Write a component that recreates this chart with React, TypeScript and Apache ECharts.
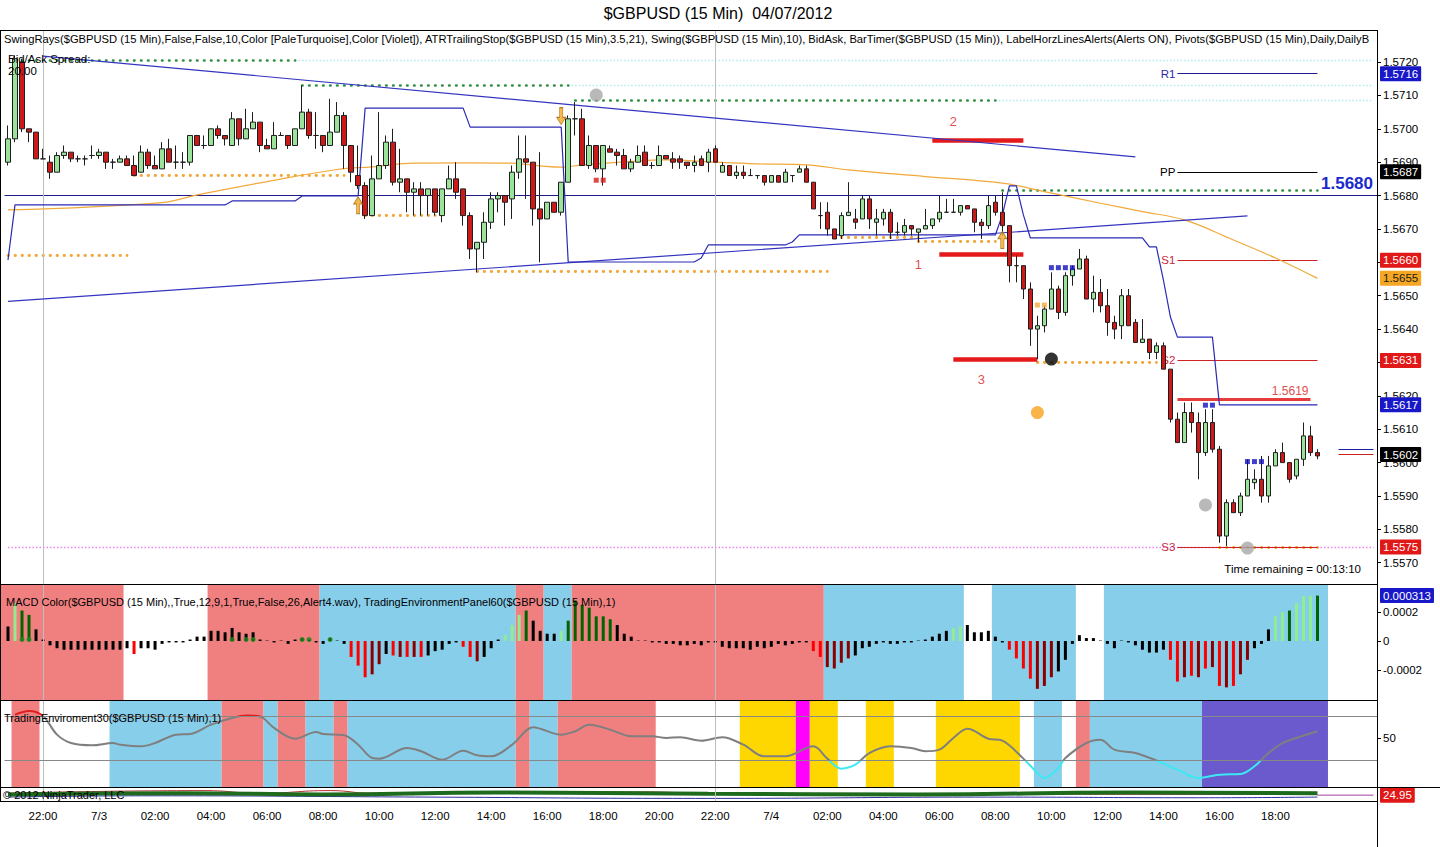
import React, { useEffect, useRef } from "react";
import * as echarts from "echarts";

const FONT = "'Liberation Sans', Arial, Helvetica, sans-serif";

// ---------------- categories / ticks ----------------
const N_CAT = 196; // 188 bars + empty right margin
const CATEGORIES = Array.from({ length: N_CAT }, (_, i) => String(i));
const TIME_TICKS = ["22:00", "7/3", "02:00", "04:00", "06:00", "08:00", "10:00", "12:00", "14:00", "16:00", "18:00", "20:00", "22:00", "7/4", "02:00", "04:00", "06:00", "08:00", "10:00", "12:00", "14:00", "16:00", "18:00"];
const TICK_FIRST_BAR = 5;
const TICK_EVERY = 8;
const SESSION_BARS = [5, 101];
const PRICE_TICKS = [1.557, 1.558, 1.559, 1.56, 1.561, 1.562, 1.563, 1.564, 1.565, 1.566, 1.567, 1.568, 1.569, 1.57, 1.571, 1.572];
const MACD_TICKS = [-0.0002, 0, 0.0002];
const ENV_TICKS = [50];

// ---------------- price bars: open, high, low, close ----------------
const OHLC = [
  [1.5690, 1.5701, 1.5689, 1.5697], [1.5697, 1.5722, 1.5696, 1.5721], [1.5720, 1.5721, 1.5699, 1.5700], [1.5700, 1.5700, 1.5696, 1.5699],
  [1.5699, 1.5699, 1.5691, 1.5691], [1.5691, 1.5694, 1.5691, 1.5691], [1.5690, 1.5692, 1.5685, 1.5687], [1.5687, 1.5693, 1.5687, 1.5692],
  [1.5692, 1.5695, 1.5691, 1.5693], [1.5693, 1.5693, 1.5690, 1.5691], [1.5691, 1.5692, 1.5690, 1.5691], [1.5691, 1.5692, 1.5689, 1.5691],
  [1.5692, 1.5695, 1.5691, 1.5692], [1.5692, 1.5694, 1.5691, 1.5693], [1.5693, 1.5693, 1.5688, 1.5690], [1.5690, 1.5691, 1.5688, 1.5690],
  [1.5690, 1.5692, 1.5690, 1.5691], [1.5691, 1.5692, 1.5689, 1.5689], [1.5689, 1.5692, 1.5686, 1.5686], [1.5687, 1.5695, 1.5687, 1.5693],
  [1.5693, 1.5694, 1.5688, 1.5689], [1.5689, 1.5692, 1.5688, 1.5688], [1.5688, 1.5696, 1.5688, 1.5694], [1.5694, 1.5697, 1.5690, 1.5690],
  [1.5690, 1.5695, 1.5688, 1.5690], [1.5690, 1.5693, 1.5688, 1.5690], [1.5690, 1.5698, 1.5689, 1.5698], [1.5698, 1.5698, 1.5695, 1.5695],
  [1.5695, 1.5698, 1.5694, 1.5695], [1.5695, 1.5700, 1.5695, 1.5700], [1.5700, 1.5701, 1.5697, 1.5698], [1.5698, 1.5698, 1.5695, 1.5697],
  [1.5695, 1.5705, 1.5695, 1.5703], [1.5703, 1.5703, 1.5695, 1.5697], [1.5697, 1.5706, 1.5697, 1.5700], [1.5700, 1.5705, 1.5700, 1.5702],
  [1.5702, 1.5702, 1.5693, 1.5695], [1.5695, 1.5697, 1.5694, 1.5694], [1.5694, 1.5702, 1.5694, 1.5698], [1.5698, 1.5699, 1.5698, 1.5698],
  [1.5698, 1.5698, 1.5694, 1.5695], [1.5695, 1.5700, 1.5695, 1.5700], [1.5700, 1.5713, 1.5700, 1.5705], [1.5705, 1.5706, 1.5697, 1.5698],
  [1.5698, 1.5705, 1.5694, 1.5698], [1.5698, 1.5698, 1.5693, 1.5695], [1.5695, 1.5709, 1.5695, 1.5699], [1.5699, 1.5708, 1.5699, 1.5704],
  [1.5704, 1.5705, 1.5688, 1.5695], [1.5695, 1.5695, 1.5684, 1.5687], [1.5686, 1.5695, 1.5682, 1.5683], [1.5683, 1.5684, 1.5673, 1.5674],
  [1.5674, 1.5692, 1.5674, 1.5685], [1.5685, 1.5705, 1.5685, 1.5689], [1.5689, 1.5698, 1.5688, 1.5696], [1.5696, 1.5700, 1.5683, 1.5684],
  [1.5684, 1.5694, 1.5681, 1.5685], [1.5685, 1.5685, 1.5675, 1.5681], [1.5681, 1.5684, 1.5674, 1.5682], [1.5682, 1.5684, 1.5674, 1.5680],
  [1.5680, 1.5682, 1.5674, 1.5682], [1.5682, 1.5682, 1.5674, 1.5675], [1.5674, 1.5682, 1.5672, 1.5682], [1.5682, 1.5689, 1.5682, 1.5685],
  [1.5685, 1.5690, 1.5679, 1.5681], [1.5682, 1.5682, 1.5671, 1.5674], [1.5674, 1.5675, 1.5661, 1.5664], [1.5664, 1.5666, 1.5657, 1.5666],
  [1.5666, 1.5675, 1.5661, 1.5672], [1.5672, 1.5681, 1.5670, 1.5679], [1.5679, 1.5681, 1.5675, 1.5680], [1.5680, 1.5680, 1.5671, 1.5678],
  [1.5679, 1.5689, 1.5673, 1.5687], [1.5687, 1.5698, 1.5685, 1.5691], [1.5691, 1.5698, 1.5679, 1.5690], [1.5690, 1.5690, 1.5671, 1.5676],
  [1.5676, 1.5693, 1.5660, 1.5673], [1.5673, 1.5678, 1.5673, 1.5678], [1.5678, 1.5678, 1.5675, 1.5675], [1.5675, 1.5684, 1.5674, 1.5684],
  [1.5684, 1.5704, 1.5684, 1.5703], [1.5703, 1.5708, 1.5698, 1.5703], [1.5703, 1.5706, 1.5689, 1.5689], [1.5689, 1.5698, 1.5688, 1.5695],
  [1.5695, 1.5695, 1.5687, 1.5688], [1.5688, 1.5695, 1.5683, 1.5695], [1.5694, 1.5695, 1.5693, 1.5693], [1.5693, 1.5694, 1.5689, 1.5692],
  [1.5692, 1.5694, 1.5688, 1.5688], [1.5688, 1.5691, 1.5687, 1.5690], [1.5690, 1.5695, 1.5690, 1.5692], [1.5693, 1.5695, 1.5689, 1.5689],
  [1.5689, 1.5690, 1.5688, 1.5689], [1.5689, 1.5695, 1.5689, 1.5692], [1.5692, 1.5692, 1.5691, 1.5691], [1.5691, 1.5693, 1.5688, 1.5690],
  [1.5691, 1.5692, 1.5688, 1.5690], [1.5690, 1.5690, 1.5688, 1.5689], [1.5689, 1.5692, 1.5687, 1.5690], [1.5691, 1.5692, 1.5689, 1.5689],
  [1.5690, 1.5694, 1.5687, 1.5693], [1.5694, 1.5695, 1.5690, 1.5690], [1.5687, 1.5690, 1.5687, 1.5689], [1.5689, 1.5689, 1.5686, 1.5686],
  [1.5686, 1.5689, 1.5685, 1.5687], [1.5687, 1.5689, 1.5685, 1.5686], [1.5686, 1.5688, 1.5686, 1.5686], [1.5686, 1.5686, 1.5685, 1.5686],
  [1.5686, 1.5686, 1.5683, 1.5684], [1.5684, 1.5686, 1.5684, 1.5686], [1.5686, 1.5686, 1.5684, 1.5684], [1.5684, 1.5688, 1.5684, 1.5687],
  [1.5686, 1.5686, 1.5684, 1.5686], [1.5687, 1.5689, 1.5687, 1.5688], [1.5688, 1.5689, 1.5684, 1.5684], [1.5684, 1.5684, 1.5676, 1.5676],
  [1.5674, 1.5678, 1.5670, 1.5674], [1.5675, 1.5678, 1.5668, 1.5670], [1.5670, 1.5670, 1.5667, 1.5667], [1.5668, 1.5675, 1.5667, 1.5674],
  [1.5674, 1.5684, 1.5674, 1.5675], [1.5673, 1.5676, 1.5670, 1.5672], [1.5673, 1.5680, 1.5673, 1.5679], [1.5679, 1.5680, 1.5670, 1.5673],
  [1.5672, 1.5676, 1.5668, 1.5673], [1.5673, 1.5676, 1.5671, 1.5675], [1.5675, 1.5676, 1.5667, 1.5669], [1.5669, 1.5672, 1.5668, 1.5669],
  [1.5669, 1.5673, 1.5668, 1.5671], [1.5671, 1.5671, 1.5668, 1.5670], [1.5669, 1.5670, 1.5666, 1.5670], [1.5670, 1.5676, 1.5670, 1.5671],
  [1.5671, 1.5673, 1.5670, 1.5673], [1.5673, 1.5680, 1.5672, 1.5675], [1.5675, 1.5679, 1.5675, 1.5675], [1.5675, 1.5679, 1.5675, 1.5675],
  [1.5675, 1.5677, 1.5674, 1.5677], [1.5677, 1.5677, 1.5676, 1.5676], [1.5676, 1.5676, 1.5669, 1.5672], [1.5672, 1.5673, 1.5667, 1.5671],
  [1.5671, 1.5680, 1.5670, 1.5677], [1.5678, 1.5680, 1.5674, 1.5675], [1.5675, 1.5681, 1.5668, 1.5671], [1.5671, 1.5671, 1.5654, 1.5659],
  [1.5659, 1.5662, 1.5654, 1.5659], [1.5659, 1.5659, 1.5649, 1.5652], [1.5652, 1.5654, 1.5635, 1.5640], [1.5640, 1.5644, 1.5631, 1.5641],
  [1.5641, 1.5647, 1.5639, 1.5646], [1.5646, 1.5657, 1.5646, 1.5652], [1.5652, 1.5653, 1.5643, 1.5645], [1.5645, 1.5657, 1.5644, 1.5656],
  [1.5656, 1.5659, 1.5653, 1.5658], [1.5658, 1.5664, 1.5658, 1.5661], [1.5661, 1.5662, 1.5649, 1.5649], [1.5649, 1.5656, 1.5645, 1.5651],
  [1.5651, 1.5655, 1.5645, 1.5647], [1.5647, 1.5652, 1.5638, 1.5642], [1.5642, 1.5644, 1.5637, 1.5640], [1.5641, 1.5652, 1.5637, 1.5650],
  [1.5650, 1.5652, 1.5641, 1.5641], [1.5642, 1.5643, 1.5636, 1.5636], [1.5636, 1.5643, 1.5636, 1.5637], [1.5637, 1.5637, 1.5631, 1.5633],
  [1.5633, 1.5636, 1.5631, 1.5635], [1.5635, 1.5636, 1.5628, 1.5628], [1.5628, 1.5628, 1.5612, 1.5613], [1.5613, 1.5615, 1.5606, 1.5606],
  [1.5606, 1.5618, 1.5606, 1.5615], [1.5615, 1.5618, 1.5609, 1.5612], [1.5612, 1.5615, 1.5595, 1.5603], [1.5603, 1.5616, 1.5602, 1.5612],
  [1.5612, 1.5616, 1.5603, 1.5604], [1.5604, 1.5605, 1.5576, 1.5578], [1.5578, 1.5589, 1.5575, 1.5588], [1.5588, 1.5589, 1.5585, 1.5585],
  [1.5585, 1.5591, 1.5584, 1.5590], [1.5590, 1.5601, 1.5590, 1.5595], [1.5594, 1.5598, 1.5592, 1.5595], [1.5595, 1.5602, 1.5588, 1.5590],
  [1.5590, 1.5602, 1.5588, 1.5599], [1.5599, 1.5604, 1.5599, 1.5603], [1.5603, 1.5606, 1.5600, 1.5600], [1.5600, 1.5600, 1.5594, 1.5595],
  [1.5596, 1.5601, 1.5595, 1.5601], [1.5601, 1.5612, 1.5599, 1.5608], [1.5608, 1.5611, 1.5602, 1.5603], [1.5603, 1.5604, 1.5601, 1.5602],
];

// ATR trailing stop: [fromBar, toBar, level]
const ATR_RUNS = [
  [0, 0, 1.56607], [1, 31, 1.56772], [32, 41, 1.56784], [42, 50, 1.56799], [51, 65, 1.57062], [66, 79, 1.57005],
  [80, 98, 1.56601], [99, 99, 1.56613], [100, 111, 1.56652], [112, 112, 1.56661], [113, 141, 1.56682], [142, 142, 1.56742],
  [143, 144, 1.56829], [145, 145, 1.56742], [146, 162, 1.56673], [163, 164, 1.56646], [165, 165, 1.56547], [166, 166, 1.56436],
  [167, 172, 1.56376], [173, 187, 1.56173],
];

// slow moving average (orange)
const MA_POINTS = [
  [0, 1.56757], [22, 1.56779], [27, 1.56802], [37, 1.56842], [47, 1.56878], [52, 1.56886], [58, 1.56897], [65, 1.56898],
  [72, 1.56897], [76, 1.56889], [79, 1.56885], [82, 1.56892], [88, 1.56901], [94, 1.56907], [100, 1.56901], [107, 1.56895],
  [114, 1.56892], [120, 1.56877], [131, 1.56857], [142, 1.56837], [148, 1.56812], [156, 1.56777], [162, 1.56752],
  [168, 1.56727], [175, 1.56667], [181, 1.56613], [187, 1.56552],
];

// trend lines [bar, price] pairs
const TREND_UPPER = [[5, 1.57218], [161, 1.56916]];
const TREND_LOWER = [[0, 1.56483], [177, 1.56739]];

// swing rays: [fromBar, toBar, level]
const SWING_HIGH_RAYS = [[1, 41, 1.57206], [42, 80, 1.57131], [81, 141, 1.57086], [142, 187, 1.56815]];
const BROKEN_HIGH_RAYS = [[41, 195, 1.57206], [80, 195, 1.57131], [141, 195, 1.57086]];
const SWING_LOW_RAYS = [[0, 17, 1.5662], [18, 48, 1.56861], [51, 61, 1.56741], [67, 117, 1.56573], [118, 130, 1.56674], [130, 141, 1.56662], [147, 164, 1.56302], [173, 187, 1.55747]];
const VIOLET_RAY = [0, 195, 1.55747];

// pivots: [name, level]
const PIVOTS = [["R1", 1.57165], ["PP", 1.56871], ["S1", 1.56606], ["S2", 1.56306], ["S3", 1.55747]];
const PIVOT_FROM = 167;
const PIVOT_TO = 187;

// alert lines: [fromBar, toBar, level]
const ALERT_LINES = [[132, 145, 1.56966], [133, 145, 1.56625], [135, 147, 1.56311]];
const ALERT_NUMBERS = [[130, 1.56592, "1"], [135, 1.57023, "2"], [139, 1.5625, "3"]];
const HORZ_LEVEL = 1.568;
const LEVEL_1619 = [167, 186, 1.5619];
const BID_ASK = [[190, 195, 1.56041], [190, 195, 1.56024]];

// markers
const GRAY_DOTS = [[84, 1.57101], [171, 1.55873], [177, 1.55744]];
const BLACK_DOTS = [[149, 1.5631]];
const ORANGE_DOTS = [[147, 1.5615]];
const RED_SQUARES = [[84, 1.56846], [85, 1.56846]];
const BLUE_SQUARES = [[149, 1.56584], [150, 1.56584], [151, 1.56584], [152, 1.56584], [171, 1.56172], [172, 1.56172], [177, 1.56003], [178, 1.56003], [179, 1.56003]];
const ORANGE_SQUARES = [[147, 1.56472], [148, 1.56472]];
const UP_ARROWS = [[50, 1.56771], [142, 1.56667]];
const DOWN_ARROWS = [[79, 1.57038]];

// price tags on the right axis: [level, text, kind]
const MAIN_TAGS = [
  [1.57165, "1.5716", "blue"], [1.56871, "1.5687", "black"], [1.56606, "1.5660", "red"], [1.56552, "1.5655", "orange"],
  [1.56306, "1.5631", "red"], [1.56173, "1.5617", "blue"], [1.56024, "1.5602", "black"], [1.55747, "1.5575", "red"],
];

// ---------------- MACD panel ----------------
const MACD_HIST = [
  0.00010, 0.00026, 0.00021, 0.00018, 0.00008, 0.00001, -0.00003, -0.00005, -0.00006, -0.00006, -0.00006, -0.00006, -0.00006, -0.00006, -0.00006, -0.00006,
  -0.00006, -0.00005, -0.00009, -0.00005, -0.00005, -0.00006, -0.00002, -0.00001, -0.00001, -0.00001, 0.00001, 0.00003, 0.00003, 0.00007, 0.00007, 0.00006,
  0.00009, 0.00006, 0.00005, 0.00006, 0.00001, 0.000003, -0.00001, 0.000003, -0.00002, 0.00001, 0.00002, 0.00001, -0.00001, -0.00002, 0.00002, 0.000003,
  -0.00002, -0.00011, -0.00017, -0.00025, -0.00023, -0.00016, -0.00009, -0.00010, -0.00011, -0.00011, -0.00011, -0.00011, -0.00010, -0.00007, -0.00006, -0.00002,
  -0.00001, -0.00004, -0.00011, -0.00014, -0.00011, -0.00005, 0.00001, 0.00004, 0.00011, 0.00018, 0.00021, 0.00014, 0.00007, 0.00005, 0.00005, 0.00007,
  0.00014, 0.00028, 0.00025, 0.00023, 0.00017, 0.00017, 0.00015, 0.00011, 0.00005, 0.00003, 0.000003, 0.000003, -0.00001, -0.00001, -0.00002, -0.00002,
  -0.00003, -0.00003, -0.00002, -0.00003, -0.00001, -0.00001, -0.00004, -0.00005, -0.00005, -0.00005, -0.00006, -0.00004, -0.00005, -0.00004, -0.00002, -0.00003,
  -0.00002, -0.00001, -0.00001, -0.00007, -0.00011, -0.00018, -0.00019, -0.00015, -0.00012, -0.00010, -0.00005, -0.00004, -0.00002, -0.00001, -0.00002, -0.00002,
  -0.00001, -0.00001, 0.000003, 0.00001, 0.00003, 0.00005, 0.00007, 0.00009, 0.00010, 0.00011, 0.00006, 0.00006, 0.00007, 0.00003, -0.00001, -0.00006,
  -0.00012, -0.00019, -0.00026, -0.00033, -0.00031, -0.00025, -0.00021, -0.00013, -0.00002, 0.00004, 0.00002, 0.00002, 0.000003, -0.00002, -0.00005, 0.000003,
  -0.00001, -0.00003, -0.00006, -0.00008, -0.00008, -0.00006, -0.00013, -0.00028, -0.00025, -0.00024, -0.00025, -0.00019, -0.00018, -0.00031, -0.00032, -0.00031,
  -0.00023, -0.00013, -0.00005, -0.00002, 0.00008, 0.00017, 0.00020, 0.00021, 0.00026, 0.00031, 0.00031, 0.000313,
];
// colour code per bar: k black, L light green, G dark green, R red, D dark red
const MACD_CODES =
  "kLGGkk" + "kkkkkkkkkkkk" + "Rkkkkkkk" + "kkkkkkkkkkkkkkkkkkkkkkk" + "RRRDDkRDRDRkkkkk" + "RRDkkk" + "LLLGkkkk" + "LGGGGGGGkk" +
  "kkkkkkkkkkkk" + "kkkkkkkkkkkkkk" + "RRDDDD" + "kkkkkkkkkkkkkk" + "LLkkkkkk" + "RRRRDDDkk" + "kkkkkkkkkkkkkk" +
  "RRDRDRDRDRDD" + "kkk" + "LLGLLLG";
const MACD_DOT_BARS = [2, 3, 32, 34, 35, 42, 43, 46];
const MACD_TAG = 0.000313;

// background bands [fromBar, toBar, colourKey]
const MACD_BANDS = [[0, 16, "S"], [29, 44, "S"], [45, 72, "B"], [73, 76, "S"], [77, 80, "B"], [81, 116, "S"], [117, 136, "B"], [141, 152, "B"], [157, 188, "B"]];
const ENV_BANDS = [
  [1, 4, "S"], [15, 30, "B"], [31, 36, "S"], [37, 38, "B"], [39, 42, "S"], [43, 46, "B"], [47, 48, "S"], [49, 72, "B"], [73, 74, "S"],
  [75, 78, "B"], [79, 92, "S"], [105, 112, "Y"], [113, 114, "M"], [115, 118, "Y"], [123, 126, "Y"], [133, 144, "Y"], [147, 150, "B"],
  [153, 154, "S"], [155, 170, "B"], [171, 188, "P"],
];

// ---------------- Trading environment line ----------------
const ENV_POINTS = [
  [1, 71.5], [3, 74.8], [5, 70.3], [7, 53.3], [9, 45.7], [12, 43.6], [15, 45.7], [16, 44.2], [19, 42.7], [21, 45.7], [24, 53.3], [26, 53.9],
  [29, 62.4], [32, 68.5], [34, 70.8], [36, 69.8], [38, 59.4], [41, 49.6], [44, 55.7], [45, 53.9], [48, 52.7], [50, 44.2], [52, 32.1], [53, 31.5],
  [57, 41.2], [59, 38.2], [62, 30.5], [65, 38.7], [67, 34.5], [69, 33.6], [72, 44.2], [75, 60], [76, 58.7], [79, 53.3], [81, 56.4], [83, 62.4],
  [86, 57.8], [89, 51.8], [92, 51.8], [94, 50.3], [96, 50.9], [99, 47.8], [102, 50.9], [105, 44.2], [108, 33.6], [111, 33.6], [115, 42.7],
  [117, 31.5], [119, 22.4], [121, 26], [123, 36.6], [126, 42.7], [129, 41.2], [131, 38.2], [133, 39.7], [135, 50.3], [137, 58.7], [140, 49.6],
  [142, 47.8], [145, 31.5], [147, 18.5], [148, 13.9], [150, 23], [151, 32.1], [154, 45.7], [156, 48.7], [158, 39.7], [161, 36.6], [164, 29.8],
  [167, 21.5], [170, 13.9], [173, 16.9], [176, 17.5], [178, 24.5], [180, 36.6], [182, 45.7], [184, 50.3], [187, 56.4],
];
const ENV_GUIDES = [30, 70];

// ---------------- bottom mini panel ----------------
const MINI_GREEN = [[0, 5], [25, 6], [45, 5], [70, 6.5], [100, 5.5], [130, 5], [160, 6.5], [187, 6]];
const MINI_BLUE = [[0, 3], [20, 4], [60, 3], [100, 2], [140, 3], [170, 2.5], [187, 3]];
const MINI_RED = [[0, 6], [28, 8], [36, 6], [46, 8], [52, 6], [90, 7], [100, 6], [187, 5]];
const MINI_TAIL = [[187, 4.5], [195, 4.5]];
const MINI_TAG = "24.95";

// ---------------- styles ----------------
const TAG_COLORS = { blue: ["#1818c8", "#fff"], black: ["#000", "#fff"], red: ["#e01818", "#fff"], orange: ["#f5a623", "#1a1a1a"] };
const BAND_COLORS = { S: "#F08080", B: "#87CEEB", Y: "#FFD700", M: "#FF00FF", P: "#6A5ACD" };
const MACD_COLORS = { k: "#000000", L: "#90EE90", G: "#006400", R: "#FF0000", D: "#8B0000" };
const HIDDEN_LINE = { color: "rgba(0,0,0,0)", width: 0 };

function tagLabel(text, bg, fg, size = 11.5) {
  return {
    show: true, position: "end", distance: 3, formatter: text, color: fg, backgroundColor: bg,
    padding: [2, 3, 1, 3], fontSize: size, fontFamily: FONT, borderRadius: 1,
  };
}

function seg(a, b, p, lineStyle, label) {
  return [{ coord: [a, p], lineStyle, label: label || { show: false } }, { coord: [b, p] }];
}

function bandRender(yVal) {
  return (params, api) => {
    const cs = params.coordSys;
    const a = api.value(0);
    const b = api.value(1);
    const w = api.size([1, 0])[0];
    const xa = a <= 0 ? 0 : api.coord([a, yVal])[0] - w / 2;
    const xb = api.coord([b, yVal])[0] + w / 2;
    return {
      type: "rect",
      shape: { x: xa, y: cs.y, width: xb - xa, height: cs.height },
      style: { fill: api.visual("color") },
    };
  };
}

function buildOption() {
  const candleData = OHLC.map(([o, h, l, c]) => [o, c, l, h]);
  const atrData = [];
  ATR_RUNS.forEach(([a, b, v]) => {
    for (let i = a; i <= b; i++) atrData.push([i, v]);
  });

  const greenDots = { color: "#2f8f3f", width: 2.6, type: [0.5, 6.5], cap: "round" };
  const orangeDots = { color: "#f2a93b", width: 2.8, type: [0.5, 6.5], cap: "round" };
  const cyanDots = { color: "#aeeaea", width: 1.4, type: [1.5, 2] };
  const violetDots = { color: "#ee82ee", width: 1.4, type: [1.5, 2] };

  const lines = [];
  BROKEN_HIGH_RAYS.forEach(([a, b, p]) => lines.push(seg(a, b, p, cyanDots)));
  lines.push(seg(VIOLET_RAY[0], VIOLET_RAY[1], VIOLET_RAY[2], violetDots));
  SWING_HIGH_RAYS.forEach(([a, b, p]) => lines.push(seg(a, b, p, greenDots)));
  SWING_LOW_RAYS.forEach(([a, b, p]) => lines.push(seg(a, b, p, orangeDots)));
  PIVOTS.forEach(([name, p]) => {
    const col = name === "R1" ? "#1c1c8c" : name === "PP" ? "#000000" : "#cc2222";
    const lcol = name === "R1" ? "#2a2aa8" : name === "PP" ? "#000000" : "#c8283c";
    lines.push(seg(PIVOT_FROM, PIVOT_TO, p, { color: col, width: 1, type: "solid" },
      { show: true, position: "start", distance: 2, formatter: name, color: lcol, fontSize: 11.5, fontFamily: FONT }));
  });
  ALERT_LINES.forEach(([a, b, p]) => lines.push(seg(a, b, p, { color: "#e41a1a", width: 4.5, type: "solid" })));
  lines.push(seg(LEVEL_1619[0], LEVEL_1619[1], LEVEL_1619[2], { color: "#e63c3c", width: 3, type: "solid" },
    { show: true, position: "insideEndTop", distance: 2, formatter: "1.5619", color: "#e05050", fontSize: 12, fontFamily: FONT }));
  lines.push(seg(BID_ASK[0][0], BID_ASK[0][1], BID_ASK[0][2], { color: "#2020a0", width: 1, type: "solid" }));
  lines.push(seg(BID_ASK[1][0], BID_ASK[1][1], BID_ASK[1][2], { color: "#cc2020", width: 1, type: "solid" }));
  lines.push({
    yAxis: HORZ_LEVEL,
    lineStyle: { color: "#1c1c8c", width: 1.2, type: "solid" },
    label: { show: true, position: "insideEndTop", distance: 4, formatter: "1.5680", color: "#1a2acd", fontSize: 17, fontWeight: "bold", fontFamily: FONT },
  });
  SESSION_BARS.forEach((b) => lines.push({ xAxis: b, lineStyle: { color: "#bdbdbd", width: 1, type: "solid" }, label: { show: false } }));

  const mainTags = MAIN_TAGS.map(([p, text, kind]) => ({
    yAxis: p, lineStyle: HIDDEN_LINE, label: tagLabel(text, TAG_COLORS[kind][0], TAG_COLORS[kind][1]),
  }));

  const sessionLines = SESSION_BARS.map((b) => ({ xAxis: b, lineStyle: { color: "#bdbdbd", width: 1, type: "solid" }, label: { show: false } }));

  const arrowPath = "path://M5 0 L10 6 L6.8 6 L6.8 14 L3.2 14 L3.2 6 L0 6 Z";
  const mk = (data, z) => ({ symbol: "none", silent: true, animation: false, precision: 8, data, ...(z != null ? { z } : {}) });

  const series = [];
  // ---- main grid ----
  series.push({
    type: "candlestick", name: "GBPUSD", xAxisIndex: 0, yAxisIndex: 0, data: candleData, barWidth: 5, z: 5,
    itemStyle: { color: "#9be39b", color0: "#cc1a1a", borderColor: "#1e1e1e", borderColor0: "#1e1e1e", borderWidth: 1 },
    markLine: mk(mainTags),
  });
  series.push({
    type: "line", name: "ATR", xAxisIndex: 0, yAxisIndex: 0, data: atrData, symbol: "none", z: 4,
    lineStyle: { color: "#2b2bb5", width: 1.2 },
    markLine: mk(lines, 3),
  });
  series.push({
    type: "line", name: "MA", xAxisIndex: 0, yAxisIndex: 0, data: MA_POINTS, symbol: "none", smooth: 0.4, z: 3,
    lineStyle: { color: "#f2a93b", width: 1.2 },
  });
  series.push({ type: "line", name: "TrendUp", xAxisIndex: 0, yAxisIndex: 0, data: TREND_UPPER, symbol: "none", z: 3, lineStyle: { color: "#3434c0", width: 1.2 } });
  series.push({ type: "line", name: "TrendLow", xAxisIndex: 0, yAxisIndex: 0, data: TREND_LOWER, symbol: "none", z: 3, lineStyle: { color: "#3434c0", width: 1.2 } });
  series.push({ type: "scatter", name: "gray", xAxisIndex: 0, yAxisIndex: 0, data: GRAY_DOTS, symbolSize: 13, z: 6, itemStyle: { color: "#a8a8a8" } });
  series.push({ type: "scatter", name: "black", xAxisIndex: 0, yAxisIndex: 0, data: BLACK_DOTS, symbolSize: 13, z: 6, itemStyle: { color: "#000" } });
  series.push({ type: "scatter", name: "orange", xAxisIndex: 0, yAxisIndex: 0, data: ORANGE_DOTS, symbolSize: 13, z: 6, itemStyle: { color: "#f7a21b" } });
  series.push({ type: "scatter", name: "redSq", xAxisIndex: 0, yAxisIndex: 0, data: RED_SQUARES, symbol: "rect", symbolSize: 5, z: 6, itemStyle: { color: "#d41c1c" } });
  series.push({ type: "scatter", name: "blueSq", xAxisIndex: 0, yAxisIndex: 0, data: BLUE_SQUARES, symbol: "rect", symbolSize: 5, z: 6, itemStyle: { color: "#1010c0" } });
  series.push({ type: "scatter", name: "orSq", xAxisIndex: 0, yAxisIndex: 0, data: ORANGE_SQUARES, symbol: "rect", symbolSize: 5, z: 6, itemStyle: { color: "#f2a93b" } });
  series.push({ type: "scatter", name: "up", xAxisIndex: 0, yAxisIndex: 0, data: UP_ARROWS, symbol: arrowPath, symbolSize: [9, 17], z: 7, itemStyle: { color: "#f5a623", borderColor: "#9a6400", borderWidth: 0.8 } });
  series.push({ type: "scatter", name: "down", xAxisIndex: 0, yAxisIndex: 0, data: DOWN_ARROWS, symbol: arrowPath, symbolRotate: 180, symbolSize: [9, 17], z: 7, itemStyle: { color: "#f5a623", borderColor: "#9a6400", borderWidth: 0.8 } });
  series.push({
    type: "scatter", name: "numbers", xAxisIndex: 0, yAxisIndex: 0, data: ALERT_NUMBERS, symbolSize: 0, z: 7,
    label: { show: true, position: "inside", formatter: (p) => p.value[2], color: "#d42020", fontSize: 13, fontFamily: FONT },
  });

  // ---- MACD grid ----
  series.push({
    type: "custom", name: "macdBands", xAxisIndex: 1, yAxisIndex: 1, z: 0, silent: true,
    renderItem: bandRender(0), encode: { x: [0, 1], y: 2 },
    data: MACD_BANDS.map(([a, b, k]) => ({ value: [a, b, 0], itemStyle: { color: BAND_COLORS[k] } })),
  });
  series.push({
    type: "bar", name: "macd", xAxisIndex: 1, yAxisIndex: 1, barWidth: 3, z: 3,
    data: MACD_HIST.map((v, i) => ({ value: v, itemStyle: { color: MACD_COLORS[MACD_CODES[i]] || "#000" } })),
    markLine: mk([...sessionLines, { yAxis: MACD_TAG, lineStyle: HIDDEN_LINE, label: tagLabel("0.000313", "#1818c8", "#fff") }]),
  });
  series.push({
    type: "scatter", name: "macdDots", xAxisIndex: 1, yAxisIndex: 1, z: 4, symbolSize: 5,
    data: MACD_DOT_BARS.map((b) => [b, 0.00001]), itemStyle: { color: "#1d8a1d" },
  });

  // ---- environment grid ----
  series.push({
    type: "custom", name: "envBands", xAxisIndex: 2, yAxisIndex: 2, z: 0, silent: true,
    renderItem: bandRender(50), encode: { x: [0, 1], y: 2 },
    data: ENV_BANDS.map(([a, b, k]) => ({ value: [a, b, 50], itemStyle: { color: BAND_COLORS[k] } })),
  });
  const envIndex = series.length;
  series.push({
    type: "line", name: "env", xAxisIndex: 2, yAxisIndex: 2, data: ENV_POINTS, symbol: "none", smooth: 0.35, z: 4,
    lineStyle: { width: 2 },
    markLine: mk([...sessionLines, ...ENV_GUIDES.map((g) => ({ yAxis: g, lineStyle: { color: "#888", width: 1, type: "solid" }, label: { show: false } }))]),
  });

  // ---- mini grid ----
  series.push({ type: "line", name: "miniBlue", xAxisIndex: 3, yAxisIndex: 3, data: MINI_BLUE, symbol: "none", smooth: true, z: 3, lineStyle: { color: "#2a2aa0", width: 1 } });
  series.push({ type: "line", name: "miniRed", xAxisIndex: 3, yAxisIndex: 3, data: MINI_RED, symbol: "none", smooth: true, z: 3, lineStyle: { color: "#b03030", width: 1 } });
  series.push({
    type: "line", name: "miniGreen", xAxisIndex: 3, yAxisIndex: 3, data: MINI_GREEN, symbol: "none", smooth: true, z: 4, lineStyle: { color: "#1e6b1e", width: 4 },
    markLine: mk(sessionLines),
  });
  series.push({
    type: "line", name: "miniTail", xAxisIndex: 3, yAxisIndex: 3, data: MINI_TAIL, symbol: "none", z: 3, lineStyle: { color: "#a040a0", width: 1 },
    markLine: mk([{ yAxis: 4.5, lineStyle: HIDDEN_LINE, label: tagLabel(MINI_TAG, "#e01818", "#fff") }]),
  });

  const gridBase = { left: 4.5, width: 1372.5, containLabel: false, outerBoundsMode: "none", show: false };
  const grids = [
    { ...gridBase, top: 30, height: 554 },
    { ...gridBase, top: 585, height: 115 },
    { ...gridBase, top: 701, height: 86 },
    { ...gridBase, top: 788, height: 13 },
  ];
  const xAxes = grids.map((_, i) => ({
    type: "category", gridIndex: i, data: CATEGORIES, boundaryGap: true,
    axisLine: { show: false }, axisTick: { show: false }, splitLine: { show: false },
    axisLabel: i === 3
      ? {
          show: true, color: "#000", fontSize: 11.5, fontFamily: FONT, margin: 9,
          interval: (idx) => idx >= TICK_FIRST_BAR && (idx - TICK_FIRST_BAR) % TICK_EVERY === 0 && (idx - TICK_FIRST_BAR) / TICK_EVERY < TIME_TICKS.length,
          formatter: (_v, idx) => TIME_TICKS[(idx - TICK_FIRST_BAR) / TICK_EVERY] || "",
        }
      : { show: false },
  }));
  const yBase = {
    type: "value", position: "right", axisLine: { show: false }, splitLine: { show: false },
  };
  const yAxes = [
    {
      ...yBase, gridIndex: 0, min: 1.556363, max: 1.57296,
      axisTick: { show: true, length: 4, customValues: PRICE_TICKS, lineStyle: { color: "#000" } },
      axisLabel: { customValues: PRICE_TICKS, formatter: (v) => v.toFixed(4), color: "#000", fontSize: 11.5, fontFamily: FONT, margin: 6 },
    },
    {
      ...yBase, gridIndex: 1, min: -0.000407, max: 0.000386,
      axisTick: { show: true, length: 4, customValues: MACD_TICKS, lineStyle: { color: "#000" } },
      axisLabel: { customValues: MACD_TICKS, formatter: (v) => (Math.abs(v) < 1e-9 ? "0" : v > 0 ? "0.0002" : "-0.0002"), color: "#000", fontSize: 11.5, fontFamily: FONT, margin: 6 },
    },
    {
      ...yBase, gridIndex: 2, min: 5.7, max: 83.9,
      axisTick: { show: true, length: 4, customValues: ENV_TICKS, lineStyle: { color: "#000" } },
      axisLabel: { customValues: ENV_TICKS, formatter: (v) => String(Math.round(v)), color: "#000", fontSize: 11.5, fontFamily: FONT, margin: 6 },
    },
    { ...yBase, gridIndex: 3, min: 0, max: 10, axisTick: { show: false }, axisLabel: { show: false } },
  ];

  const hLine = (y, x2 = 1377) => ({ type: "line", z: 50, silent: true, shape: { x1: 0, y1: y, x2, y2: y }, style: { stroke: "#000", lineWidth: 1 } });
  const txt = (x, y, text, size, extra = {}) => ({
    type: "text", x, y, z: 60, silent: true,
    style: { text, fontSize: size, fontFamily: FONT, fill: "#000", verticalAlign: "middle", ...extra },
  });

  const graphic = [
    hLine(30.5), hLine(584.5), hLine(700.5), hLine(787.5, 1440), hLine(801.5),
    { type: "line", z: 50, silent: true, shape: { x1: 0.5, y1: 30, x2: 0.5, y2: 802 }, style: { stroke: "#000", lineWidth: 1 } },
    { type: "line", z: 50, silent: true, shape: { x1: 1377.5, y1: 30, x2: 1377.5, y2: 847 }, style: { stroke: "#000", lineWidth: 1 } },
    txt(718, 13, "$GBPUSD (15 Min)  04/07/2012", 16, { align: "center" }),
    txt(4, 39, "SwingRays($GBPUSD (15 Min),False,False,10,Color [PaleTurquoise],Color [Violet]), ATRTrailingStop($GBPUSD (15 Min),3.5,21), Swing($GBPUSD (15 Min),10), BidAsk, BarTimer($GBPUSD (15 Min)), LabelHorzLinesAlerts(Alerts ON), Pivots($GBPUSD (15 Min),Daily,DailyBars,0,0,0,20)", 11.2, { width: 1371, overflow: "truncate", ellipsis: "" }),
    txt(8, 59, "Bid/Ask Spread:", 11.5),
    txt(8, 71, "20.00", 11.5),
    txt(1361, 569, "Time remaining = 00:13:10", 11.5, { align: "right" }),
    txt(6, 602, "MACD Color($GBPUSD (15 Min),,True,12,9,1,True,False,26,Alert4.wav), TradingEnvironmentPanel60($GBPUSD (15 Min),1)", 11),
    txt(4, 718, "TradingEnviroment30($GBPUSD (15 Min),1)", 11),
    txt(3, 795, "\u00A9 2012 NinjaTrader, LLC", 11),
  ];

  return {
    animation: false,
    backgroundColor: "#ffffff",
    textStyle: { fontFamily: FONT },
    grid: grids,
    xAxis: xAxes,
    yAxis: yAxes,
    visualMap: [{
      type: "piecewise", show: false, seriesIndex: envIndex, dimension: 1,
      pieces: [{ lt: 30, color: "#3ee8f2" }, { gte: 30, lte: 70, color: "#7f7f7f" }, { gt: 70, color: "#e01e1e" }],
    }],
    series,
    graphic,
  };
}

export default function App() {
  const ref = useRef(null);
  useEffect(() => {
    document.body.style.margin = "0";
    const chart = echarts.init(ref.current, null, { renderer: "svg" });
    chart.setOption(buildOption());
    return () => chart.dispose();
  }, []);
  return <div ref={ref} style={{ width: 1440, height: 847 }} />;
}
